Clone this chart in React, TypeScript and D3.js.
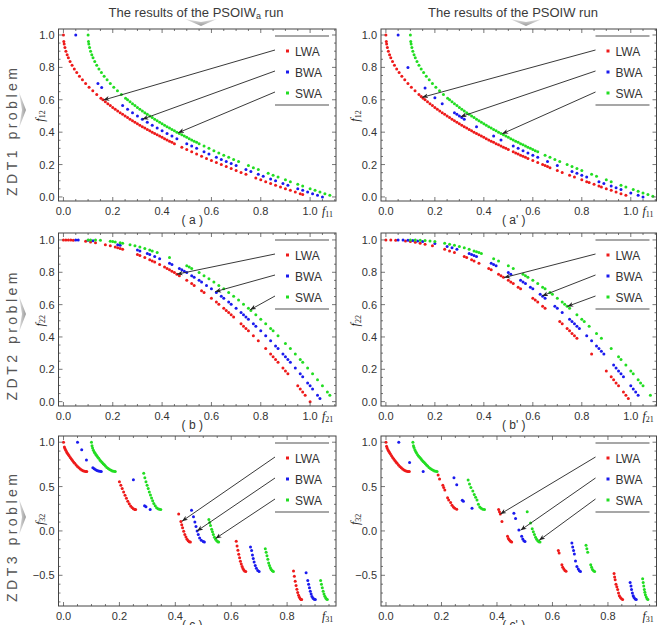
import * as React from 'react'
import * as d3 from 'd3'

type Pt = [number, number]

// ZDT1 fronts, PSOIWa run (a)
const zdt1LwaA: Pt[] = [[0,1],[0.0016,0.96],[0.003,0.945],[0.006,0.923],[0.01,0.9],[0.015,0.878],[0.02,0.859],[0.027,0.836],[0.035,0.813],[0.044,0.79],[0.054,0.768],[0.065,0.745],[0.077,0.723],[0.09,0.7],[0.104,0.678],[0.119,0.655],[0.135,0.633],[0.152,0.61],[0.16,0.6],[0.17,0.588],[0.18,0.576],[0.19,0.564],[0.2,0.553],[0.21,0.542],[0.22,0.531],[0.23,0.52],[0.24,0.51],[0.25,0.5],[0.26,0.49],[0.27,0.48],[0.28,0.471],[0.29,0.461],[0.3,0.452],[0.31,0.443],[0.32,0.434],[0.33,0.426],[0.34,0.417],[0.35,0.408],[0.36,0.4],[0.37,0.392],[0.38,0.384],[0.39,0.376],[0.4,0.368],[0.41,0.36],[0.42,0.352],[0.43,0.344],[0.44,0.337],[0.45,0.329],[0.48,0.307],[0.5,0.293],[0.52,0.279],[0.54,0.265],[0.56,0.252],[0.58,0.238],[0.6,0.225],[0.62,0.213],[0.64,0.2],[0.66,0.188],[0.68,0.175],[0.7,0.163],[0.72,0.151],[0.74,0.14],[0.78,0.117],[0.8,0.106],[0.82,0.094],[0.84,0.083],[0.86,0.073],[0.88,0.062],[0.9,0.051],[0.92,0.041],[0.94,0.03],[0.96,0.02],[0.97,0.015]]
const zdt1BwaA: Pt[] = [[0.05,1],[0.14,0.7],[0.155,0.676],[0.24,0.564],[0.26,0.542],[0.28,0.52],[0.3,0.5],[0.32,0.48],[0.34,0.461],[0.36,0.443],[0.38,0.426],[0.4,0.408],[0.42,0.392],[0.44,0.376],[0.46,0.36],[0.5,0.329],[0.52,0.314],[0.54,0.3],[0.57,0.279],[0.59,0.265],[0.62,0.245],[0.64,0.232],[0.66,0.219],[0.68,0.206],[0.7,0.194],[0.74,0.169],[0.76,0.157],[0.79,0.14],[0.81,0.128],[0.84,0.111],[0.86,0.1],[0.89,0.083],[0.91,0.073],[0.95,0.051],[0.97,0.041],[0.99,0.03],[1.01,0.02],[1.03,0.01],[1.05,0]]
const zdt1SwaA: Pt[] = [[0.1,1],[0.1016,0.96],[0.103,0.945],[0.106,0.923],[0.11,0.9],[0.115,0.878],[0.12,0.859],[0.127,0.836],[0.135,0.813],[0.144,0.79],[0.154,0.768],[0.165,0.745],[0.177,0.723],[0.19,0.7],[0.204,0.678],[0.219,0.655],[0.235,0.633],[0.252,0.61],[0.26,0.6],[0.27,0.588],[0.28,0.576],[0.29,0.564],[0.3,0.553],[0.31,0.542],[0.32,0.531],[0.33,0.52],[0.34,0.51],[0.35,0.5],[0.36,0.49],[0.37,0.48],[0.38,0.471],[0.39,0.461],[0.4,0.452],[0.41,0.443],[0.42,0.434],[0.43,0.426],[0.44,0.417],[0.45,0.408],[0.46,0.4],[0.47,0.392],[0.48,0.384],[0.49,0.376],[0.5,0.368],[0.51,0.36],[0.52,0.352],[0.53,0.344],[0.54,0.337],[0.55,0.329],[0.57,0.314],[0.59,0.3],[0.61,0.286],[0.63,0.272],[0.65,0.258],[0.67,0.245],[0.69,0.232],[0.71,0.219],[0.75,0.194],[0.77,0.181],[0.79,0.169],[0.83,0.146],[0.85,0.134],[0.87,0.123],[0.9,0.106],[0.92,0.094],[0.95,0.078],[0.97,0.067],[1.0,0.051],[1.02,0.041],[1.04,0.03],[1.06,0.02],[1.08,0.01]]

// ZDT1 fronts, PSOIW run (a')
const zdt1LwaB: Pt[] = [[0,1],[0.0016,0.96],[0.003,0.945],[0.006,0.923],[0.01,0.9],[0.015,0.878],[0.02,0.859],[0.027,0.836],[0.035,0.813],[0.044,0.79],[0.054,0.768],[0.065,0.745],[0.077,0.723],[0.09,0.7],[0.104,0.678],[0.119,0.655],[0.135,0.633],[0.144,0.62],[0.152,0.61],[0.16,0.6],[0.17,0.588],[0.18,0.576],[0.19,0.564],[0.2,0.553],[0.21,0.542],[0.22,0.531],[0.23,0.52],[0.24,0.51],[0.25,0.5],[0.26,0.49],[0.27,0.48],[0.28,0.471],[0.29,0.461],[0.3,0.452],[0.31,0.443],[0.32,0.434],[0.33,0.426],[0.34,0.417],[0.35,0.408],[0.36,0.4],[0.37,0.392],[0.38,0.384],[0.39,0.376],[0.4,0.368],[0.41,0.36],[0.42,0.352],[0.43,0.344],[0.44,0.337],[0.45,0.329],[0.46,0.322],[0.47,0.314],[0.48,0.307],[0.49,0.3],[0.5,0.293],[0.52,0.279],[0.53,0.272],[0.54,0.265],[0.55,0.258],[0.56,0.252],[0.57,0.245],[0.58,0.238],[0.6,0.225],[0.62,0.213],[0.64,0.2],[0.65,0.194],[0.66,0.188],[0.67,0.181],[0.7,0.163],[0.72,0.151],[0.75,0.134],[0.77,0.123],[0.8,0.106],[0.82,0.094],[0.83,0.089],[0.85,0.078],[0.87,0.067],[0.88,0.062],[0.9,0.051],[0.92,0.041],[0.94,0.03],[0.96,0.02],[0.98,0.01]]
const zdt1BwaB: Pt[] = [[0.05,1],[0.09,0.8],[0.16,0.672],[0.2,0.613],[0.23,0.576],[0.28,0.52],[0.29,0.51],[0.3,0.5],[0.31,0.49],[0.32,0.48],[0.37,0.434],[0.44,0.376],[0.47,0.352],[0.52,0.314],[0.54,0.3],[0.56,0.286],[0.58,0.272],[0.6,0.258],[0.62,0.245],[0.66,0.219],[0.7,0.194],[0.76,0.157],[0.78,0.146],[0.8,0.134],[0.82,0.123],[0.87,0.094],[0.89,0.083],[0.92,0.067],[0.94,0.057],[0.96,0.046],[1.0,0.025],[1.03,0.01],[1.05,0]]
const zdt1SwaB: Pt[] = [[0.1,1],[0.1016,0.96],[0.103,0.945],[0.106,0.923],[0.11,0.9],[0.115,0.878],[0.12,0.859],[0.127,0.836],[0.135,0.813],[0.144,0.79],[0.154,0.768],[0.165,0.745],[0.177,0.723],[0.19,0.7],[0.204,0.678],[0.219,0.655],[0.235,0.633],[0.252,0.61],[0.26,0.6],[0.27,0.588],[0.28,0.576],[0.29,0.564],[0.3,0.553],[0.31,0.542],[0.32,0.531],[0.33,0.52],[0.34,0.51],[0.35,0.5],[0.36,0.49],[0.37,0.48],[0.38,0.471],[0.39,0.461],[0.4,0.452],[0.41,0.443],[0.42,0.434],[0.43,0.426],[0.44,0.417],[0.45,0.408],[0.46,0.4],[0.47,0.392],[0.48,0.384],[0.49,0.376],[0.5,0.368],[0.51,0.36],[0.52,0.352],[0.53,0.344],[0.54,0.337],[0.55,0.329],[0.56,0.322],[0.57,0.314],[0.58,0.307],[0.59,0.3],[0.6,0.293],[0.61,0.286],[0.62,0.279],[0.65,0.258],[0.67,0.245],[0.69,0.232],[0.71,0.219],[0.74,0.2],[0.76,0.188],[0.78,0.175],[0.8,0.163],[0.84,0.14],[0.86,0.128],[0.9,0.106],[0.92,0.094],[0.96,0.073],[0.98,0.062],[1.01,0.046],[1.03,0.035],[1.05,0.025],[1.07,0.015],[1.09,0.005]]

// ZDT2 fronts, PSOIWa run (b)
const zdt2LwaA: Pt[] = [[0,1],[0.01,1],[0.02,1],[0.03,0.999],[0.04,0.998],[0.09,0.992],[0.11,0.988],[0.13,0.983],[0.17,0.971],[0.19,0.964],[0.21,0.956],[0.22,0.952],[0.23,0.947],[0.24,0.942],[0.3,0.91],[0.31,0.904],[0.33,0.891],[0.35,0.878],[0.36,0.87],[0.37,0.863],[0.39,0.848],[0.41,0.832],[0.42,0.824],[0.43,0.815],[0.44,0.806],[0.45,0.798],[0.46,0.788],[0.47,0.779],[0.5,0.75],[0.52,0.73],[0.53,0.719],[0.56,0.686],[0.57,0.675],[0.6,0.64],[0.62,0.616],[0.63,0.603],[0.65,0.578],[0.66,0.564],[0.67,0.551],[0.68,0.538],[0.69,0.524],[0.72,0.482],[0.73,0.467],[0.74,0.452],[0.75,0.438],[0.77,0.407],[0.79,0.376],[0.82,0.328],[0.84,0.294],[0.85,0.278],[0.86,0.26],[0.87,0.243],[0.89,0.208],[0.9,0.19],[0.91,0.172],[0.95,0.098],[0.96,0.078],[0.97,0.059],[0.98,0.04],[1.0,0]]
const zdt2BwaA: Pt[] = [[0.05,1],[0.06,1],[0.1,0.998],[0.12,0.995],[0.22,0.971],[0.23,0.968],[0.3,0.938],[0.31,0.932],[0.34,0.916],[0.35,0.91],[0.37,0.898],[0.39,0.884],[0.43,0.856],[0.44,0.848],[0.47,0.824],[0.48,0.815],[0.49,0.806],[0.5,0.798],[0.52,0.779],[0.53,0.77],[0.55,0.75],[0.56,0.74],[0.58,0.719],[0.6,0.698],[0.62,0.675],[0.64,0.652],[0.65,0.64],[0.67,0.616],[0.68,0.603],[0.7,0.578],[0.72,0.551],[0.73,0.538],[0.74,0.524],[0.75,0.51],[0.77,0.482],[0.78,0.467],[0.8,0.438],[0.82,0.407],[0.84,0.376],[0.86,0.344],[0.87,0.328],[0.89,0.294],[0.9,0.278],[0.91,0.26],[0.92,0.243],[0.94,0.208],[0.96,0.172],[0.97,0.154],[0.99,0.116],[1.0,0.098],[1.01,0.078],[1.03,0.04],[1.04,0.02]]
const zdt2SwaA: Pt[] = [[0.1,1],[0.11,1],[0.13,0.999],[0.15,0.998],[0.19,0.992],[0.2,0.99],[0.21,0.988],[0.23,0.983],[0.24,0.98],[0.27,0.971],[0.29,0.964],[0.31,0.956],[0.33,0.947],[0.35,0.938],[0.36,0.932],[0.38,0.922],[0.43,0.891],[0.5,0.84],[0.51,0.832],[0.52,0.824],[0.55,0.798],[0.57,0.779],[0.59,0.76],[0.61,0.74],[0.63,0.719],[0.65,0.698],[0.67,0.675],[0.69,0.652],[0.71,0.628],[0.73,0.603],[0.75,0.578],[0.76,0.564],[0.78,0.538],[0.8,0.51],[0.82,0.482],[0.84,0.452],[0.85,0.438],[0.87,0.407],[0.9,0.36],[0.92,0.328],[0.94,0.294],[0.96,0.26],[0.97,0.243],[0.99,0.208],[1.01,0.172],[1.03,0.135],[1.05,0.098],[1.07,0.059],[1.08,0.04]]

// ZDT2 fronts, PSOIW run (b')
const zdt2LwaB: Pt[] = [[0,1],[0.02,1],[0.04,0.998],[0.08,0.994],[0.1,0.99],[0.12,0.986],[0.14,0.98],[0.16,0.974],[0.19,0.964],[0.24,0.942],[0.26,0.932],[0.28,0.922],[0.32,0.898],[0.33,0.891],[0.35,0.878],[0.36,0.87],[0.38,0.856],[0.42,0.824],[0.43,0.815],[0.46,0.788],[0.47,0.779],[0.48,0.77],[0.5,0.75],[0.51,0.74],[0.52,0.73],[0.54,0.708],[0.55,0.698],[0.6,0.64],[0.61,0.628],[0.62,0.616],[0.64,0.59],[0.65,0.578],[0.71,0.496],[0.72,0.482],[0.74,0.452],[0.75,0.438],[0.76,0.422],[0.77,0.407],[0.78,0.392],[0.84,0.294],[0.9,0.19],[0.92,0.154],[0.93,0.135],[0.94,0.116],[0.95,0.098],[0.97,0.059],[0.98,0.04],[0.99,0.02]]
const zdt2BwaB: Pt[] = [[0.05,1],[0.07,1],[0.09,0.998],[0.11,0.996],[0.13,0.994],[0.15,0.99],[0.2,0.978],[0.25,0.96],[0.27,0.952],[0.29,0.942],[0.34,0.916],[0.35,0.91],[0.36,0.904],[0.37,0.898],[0.43,0.856],[0.44,0.848],[0.45,0.84],[0.5,0.798],[0.51,0.788],[0.55,0.75],[0.56,0.74],[0.57,0.73],[0.59,0.708],[0.6,0.698],[0.63,0.664],[0.64,0.652],[0.65,0.64],[0.69,0.59],[0.7,0.578],[0.72,0.551],[0.75,0.51],[0.76,0.496],[0.77,0.482],[0.78,0.467],[0.79,0.452],[0.82,0.407],[0.84,0.376],[0.86,0.344],[0.87,0.328],[0.88,0.311],[0.89,0.294],[0.93,0.226],[0.94,0.208],[0.95,0.19],[0.96,0.172],[0.97,0.154],[1.0,0.098],[1.01,0.078],[1.02,0.059],[1.03,0.04]]
const zdt2SwaB: Pt[] = [[0.1,1],[0.12,1],[0.14,0.998],[0.16,0.996],[0.18,0.994],[0.2,0.99],[0.24,0.98],[0.26,0.974],[0.28,0.968],[0.3,0.96],[0.32,0.952],[0.34,0.942],[0.36,0.932],[0.37,0.927],[0.38,0.922],[0.39,0.916],[0.44,0.884],[0.46,0.87],[0.5,0.84],[0.52,0.824],[0.56,0.788],[0.57,0.779],[0.58,0.77],[0.6,0.75],[0.62,0.73],[0.64,0.708],[0.65,0.698],[0.67,0.675],[0.68,0.664],[0.7,0.64],[0.72,0.616],[0.73,0.603],[0.74,0.59],[0.75,0.578],[0.78,0.538],[0.8,0.51],[0.81,0.496],[0.83,0.467],[0.86,0.422],[0.88,0.392],[0.92,0.328],[0.95,0.278],[0.96,0.26],[0.98,0.226],[1.0,0.19],[1.01,0.172],[1.03,0.135],[1.04,0.116],[1.05,0.098],[1.08,0.04]]

// ZDT3 fronts, PSOIWa run (c)
const zdt3LwaA: Pt[] = [[0,1],[0.003,0.945],[0.005,0.928],[0.008,0.908],[0.011,0.891],[0.014,0.876],[0.017,0.861],[0.02,0.847],[0.024,0.829],[0.028,0.811],[0.032,0.794],[0.036,0.778],[0.04,0.762],[0.045,0.744],[0.05,0.726],[0.055,0.711],[0.06,0.698],[0.065,0.687],[0.07,0.679],[0.075,0.673],[0.08,0.67],[0.083,0.67],
  [0.2,0.553],[0.205,0.515],[0.21,0.477],[0.215,0.439],[0.22,0.402],[0.225,0.367],[0.23,0.334],[0.235,0.306],[0.24,0.282],[0.245,0.263],[0.25,0.25],[0.255,0.243],[0.258,0.242],
  [0.412,0.19],[0.42,0.105],[0.423,0.07],[0.426,0.037],[0.43,-0.004],[0.434,-0.039],[0.438,-0.069],[0.442,-0.093],[0.446,-0.11],[0.45,-0.121],[0.454,-0.124],
  [0.618,-0.117],[0.621,-0.169],[0.624,-0.217],[0.627,-0.262],[0.63,-0.303],[0.633,-0.341],[0.636,-0.373],[0.639,-0.401],[0.642,-0.423],[0.645,-0.44],[0.648,-0.452],[0.652,-0.458],
  [0.823,-0.451],[0.826,-0.511],[0.829,-0.566],[0.832,-0.615],[0.835,-0.658],[0.838,-0.695],[0.841,-0.724],[0.844,-0.748],[0.847,-0.764],[0.85,-0.772],[0.852,-0.773]]
const zdt3BwaA: Pt[] = [[0.05,1],[0.065,0.915],[0.082,0.8],[0.105,0.712],[0.11,0.7],[0.115,0.69],[0.12,0.68],[0.125,0.675],[0.13,0.672],[0.135,0.67],
  [0.25,0.577],[0.29,0.285],[0.295,0.272],[0.31,0.242],
  [0.458,0.233],[0.465,0.16],[0.47,0.1],[0.474,0.05],[0.478,0],[0.482,-0.04],[0.487,-0.08],[0.493,-0.105],[0.5,-0.12],[0.504,-0.124],
  [0.669,-0.18],[0.673,-0.22],[0.676,-0.27],[0.679,-0.31],[0.682,-0.35],[0.686,-0.39],[0.69,-0.42],[0.695,-0.445],[0.7,-0.456],
  [0.868,-0.47],[0.874,-0.56],[0.877,-0.6],[0.88,-0.64],[0.883,-0.68],[0.886,-0.71],[0.889,-0.74],[0.893,-0.76],[0.897,-0.77],[0.901,-0.773]]
const zdt3SwaA: Pt[] = [[0.1,1],[0.102,0.96],[0.104,0.935],[0.107,0.91],[0.11,0.891],[0.113,0.875],[0.116,0.86],[0.119,0.846],[0.122,0.834],[0.126,0.818],[0.13,0.8],[0.134,0.785],[0.138,0.771],[0.142,0.758],[0.146,0.745],[0.15,0.732],[0.155,0.716],[0.16,0.703],[0.165,0.692],[0.17,0.683],[0.175,0.676],[0.18,0.672],[0.185,0.67],
  [0.287,0.65],[0.291,0.6],[0.295,0.555],[0.299,0.515],[0.303,0.478],[0.307,0.44],[0.311,0.405],[0.315,0.37],[0.319,0.34],[0.323,0.31],[0.328,0.283],[0.333,0.262],[0.338,0.25],[0.343,0.244],[0.348,0.242],
  [0.52,0.13],[0.523,0.095],[0.526,0.06],[0.53,0.02],[0.533,-0.01],[0.536,-0.04],[0.54,-0.07],[0.544,-0.095],[0.548,-0.112],[0.552,-0.122],[0.555,-0.125],
  [0.722,-0.2],[0.725,-0.24],[0.728,-0.28],[0.731,-0.32],[0.734,-0.36],[0.737,-0.39],[0.74,-0.415],[0.743,-0.435],[0.747,-0.45],[0.751,-0.457],
  [0.92,-0.56],[0.923,-0.6],[0.926,-0.64],[0.929,-0.68],[0.932,-0.71],[0.935,-0.735],[0.938,-0.755],[0.941,-0.767],[0.944,-0.773]]

// ZDT3 fronts, PSOIW run (c')
const zdt3LwaB: Pt[] = [[0,1],[0.002,0.955],[0.004,0.936],[0.007,0.915],[0.01,0.897],[0.013,0.881],[0.016,0.866],[0.02,0.847],[0.024,0.829],[0.028,0.811],[0.032,0.794],[0.036,0.778],[0.04,0.762],[0.045,0.744],[0.05,0.726],[0.055,0.711],[0.06,0.698],[0.065,0.687],[0.07,0.679],[0.075,0.673],[0.08,0.67],[0.084,0.669],
  [0.188,0.63],[0.193,0.585],[0.205,0.515],[0.208,0.49],[0.212,0.462],[0.222,0.375],[0.226,0.35],[0.233,0.32],[0.238,0.29],[0.243,0.27],[0.248,0.256],[0.255,0.244],
  [0.406,0.243],[0.409,0.215],[0.412,0.19],[0.418,0.105],[0.438,-0.06],[0.441,-0.085],[0.444,-0.1],[0.447,-0.112],[0.45,-0.12],[0.453,-0.125],
  [0.621,-0.22],[0.624,-0.25],[0.634,-0.38],[0.637,-0.41],[0.641,-0.43],[0.645,-0.445],[0.649,-0.455],
  [0.822,-0.48],[0.824,-0.52],[0.826,-0.55],[0.829,-0.6],[0.832,-0.63],[0.835,-0.66],[0.838,-0.7],[0.841,-0.73],[0.845,-0.75],[0.849,-0.765],[0.853,-0.773]]
const zdt3BwaB: Pt[] = [[0.046,1],[0.085,0.77],[0.134,0.67],
  [0.245,0.6],[0.255,0.52],[0.275,0.345],[0.279,0.335],[0.31,0.255],
  [0.461,0.2],[0.467,0.14],[0.479,0.01],[0.489,-0.06],[0.493,-0.09],[0.497,-0.11],[0.501,-0.12],
  [0.67,-0.136],[0.673,-0.18],[0.676,-0.22],[0.679,-0.26],[0.683,-0.34],[0.688,-0.4],[0.693,-0.43],[0.697,-0.45],[0.701,-0.458],
  [0.88,-0.58],[0.883,-0.62],[0.885,-0.66],[0.888,-0.7],[0.891,-0.73],[0.894,-0.75],[0.898,-0.768],[0.902,-0.773]]
const zdt3SwaB: Pt[] = [[0.097,1],[0.099,0.96],[0.101,0.94],[0.104,0.915],[0.107,0.895],[0.11,0.878],[0.114,0.86],[0.118,0.843],[0.122,0.828],[0.126,0.813],[0.13,0.798],[0.134,0.784],[0.138,0.77],[0.142,0.757],[0.146,0.744],[0.15,0.731],[0.155,0.716],[0.16,0.703],[0.165,0.692],[0.17,0.683],[0.175,0.676],[0.18,0.672],[0.184,0.67],
  [0.296,0.575],[0.301,0.53],[0.306,0.49],[0.313,0.45],[0.318,0.41],[0.323,0.38],[0.328,0.35],[0.333,0.3],[0.338,0.27],[0.343,0.255],[0.349,0.245],[0.355,0.242],
  [0.509,0.216],[0.521,0.09],[0.527,0.025],[0.531,-0.01],[0.535,-0.04],[0.539,-0.07],[0.543,-0.095],[0.547,-0.112],[0.551,-0.122],[0.555,-0.125],
  [0.721,-0.16],[0.724,-0.2],[0.727,-0.24],[0.738,-0.38],[0.741,-0.41],[0.744,-0.435],[0.748,-0.45],[0.752,-0.458],
  [0.925,-0.54],[0.927,-0.58],[0.929,-0.62],[0.931,-0.66],[0.933,-0.69],[0.935,-0.72],[0.938,-0.745],[0.941,-0.763],[0.944,-0.773]]

// points the legend arrows land on, one per series
const tipsA: Pt[] = [[0.162, 0.598], [0.32, 0.48], [0.465, 0.396]]
const tipsA2: Pt[] = [[0.148, 0.615], [0.305, 0.495], [0.475, 0.39]]
const tipsB: Pt[] = [[0.46, 0.788], [0.615, 0.68], [0.757, 0.568]]
const tipsB2: Pt[] = [[0.483, 0.767], [0.638, 0.654], [0.741, 0.589]]
const tipsC: Pt[] = [[0.424, 0.11], [0.478, 0], [0.544, -0.085]]
const tipsC2: Pt[] = [[0.412, 0.19], [0.485, 0.008], [0.552, -0.106]]

const seriesNames = ['LWA', 'BWA', 'SWA']
const seriesColors = ['#ee1a1a', '#1a1aee', '#22dd22']

const unitTicks = [0, 0.2, 0.4, 0.6, 0.8, 1.0]
const zdt3XTicks = [0, 0.2, 0.4, 0.6, 0.8]
const zdt3YTicks = [-0.5, 0, 0.5, 1.0]

const headers = ['The results of the PSOIW', 'The results of the PSOIW']
const problems = ['ZDT1 problem', 'ZDT2 problem', 'ZDT3 problem']

interface Row {
    top: number
    bottom: number
    xDomain: [number, number]
    yDomain: [number, number]
    xTicks: number[]
    yTicks: number[]
    xMinor: number
    yMinor: number
    fIndex: string
    yLabelAt: number
}

const rows: Row[] = [
    { top: 29, bottom: 201, xDomain: [-0.02, 1.105], yDomain: [-0.025, 1.037], xTicks: unitTicks, yTicks: unitTicks, xMinor: 0.05, yMinor: 0.05, fIndex: '1', yLabelAt: 0.5 },
    { top: 233, bottom: 406, xDomain: [-0.02, 1.105], yDomain: [-0.027, 1.043], xTicks: unitTicks, yTicks: unitTicks, xMinor: 0.05, yMinor: 0.05, fIndex: '2', yLabelAt: 0.5 },
    { top: 436, bottom: 606, xDomain: [-0.018, 0.975], yDomain: [-0.846, 1.07], xTicks: zdt3XTicks, yTicks: zdt3YTicks, xMinor: 0.05, yMinor: 0.1, fIndex: '3', yLabelAt: 0.13 },
]

const columns = [
    { left: 58.5, right: 336, yLabelGap: 15 },
    { left: 381, right: 656.5, yLabelGap: 22 },
]

interface Panel {
    tag: string
    col: number
    row: number
    series: Pt[][]
    tips: Pt[]
}

const panels: Panel[] = [
    { tag: '( a )', col: 0, row: 0, series: [zdt1LwaA, zdt1BwaA, zdt1SwaA], tips: tipsA },
    { tag: "( a' )", col: 1, row: 0, series: [zdt1LwaB, zdt1BwaB, zdt1SwaB], tips: tipsA2 },
    { tag: '( b )', col: 0, row: 1, series: [zdt2LwaA, zdt2BwaA, zdt2SwaA], tips: tipsB },
    { tag: "( b' )", col: 1, row: 1, series: [zdt2LwaB, zdt2BwaB, zdt2SwaB], tips: tipsB2 },
    { tag: '( c )', col: 0, row: 2, series: [zdt3LwaA, zdt3BwaA, zdt3SwaA], tips: tipsC },
    { tag: "( c' )", col: 1, row: 2, series: [zdt3LwaB, zdt3BwaB, zdt3SwaB], tips: tipsC2 },
]

const SANS = "'Liberation Sans', Arial, sans-serif"
const SERIF = "'Liberation Serif', 'Times New Roman', serif"
const fmt = d3.format('.1f')

const stepTicks = (domain: [number, number], step: number) =>
    d3.range(Math.ceil(domain[0] / step - 1e-9), Math.floor(domain[1] / step + 1e-9) + 1).map(k => +(k * step).toFixed(4))

function drawChart(node: SVGSVGElement) {
    const svg = d3.select(node)
    svg.selectAll('*').remove()
    svg.attr('font-family', SANS)

    svg.append('rect').attr('width', 666).attr('height', 625).attr('fill', '#fff')

    const defs = svg.append('defs')
    defs.append('marker')
        .attr('id', 'tip')
        .attr('viewBox', '0 0 10 10')
        .attr('refX', 10)
        .attr('refY', 5)
        .attr('markerWidth', 6)
        .attr('markerHeight', 6)
        .attr('markerUnits', 'userSpaceOnUse')
        .attr('orient', 'auto')
        .append('path')
        .attr('d', 'M0,1L10,5L0,9L3,5z')
        .attr('fill', '#222')

    const hGrad = defs.append('linearGradient').attr('id', 'chevH').attr('x1', 0).attr('y1', 0).attr('x2', 0).attr('y2', 1)
    hGrad.append('stop').attr('offset', 0).attr('stop-color', '#e4e4e4')
    hGrad.append('stop').attr('offset', 1).attr('stop-color', '#9a9a9a')
    const vGrad = defs.append('linearGradient').attr('id', 'chevV').attr('x1', 0).attr('y1', 0).attr('x2', 1).attr('y2', 0)
    vGrad.append('stop').attr('offset', 0).attr('stop-color', '#e4e4e4')
    vGrad.append('stop').attr('offset', 1).attr('stop-color', '#9a9a9a')

    // column headers with their down chevrons
    const headerX = [196, 513]
    const chevX = [201, 526]
    headers.forEach((h, i) => {
        const t = svg.append('text')
            .attr('x', headerX[i])
            .attr('y', 17)
            .attr('text-anchor', 'middle')
            .attr('font-size', 13)
            .attr('fill', '#3a3a3a')
        t.append('tspan').text(h)
        if (i === 0) {
            t.append('tspan').attr('font-size', 9).attr('dy', 2).text('a')
            t.append('tspan').attr('dy', -2).text(' run')
        } else {
            t.append('tspan').text(' run')
        }
        const cx = chevX[i]
        svg.append('path')
            .attr('d', `M${cx - 16},19L${cx},26L${cx + 16},19L${cx},22Z`)
            .attr('fill', 'url(#chevH)')
    })

    // row titles with their right chevrons
    rows.forEach((row, i) => {
        const cy = (row.top + row.bottom) / 2 + 17
        svg.append('text')
            .attr('transform', `translate(17,${cy}) rotate(-90)`)
            .attr('text-anchor', 'middle')
            .attr('font-size', 14)
            .attr('fill', '#555')
            .attr('textLength', 128)
            .attr('lengthAdjust', 'spacing')
            .text(problems[i])
        const t0 = row.top + 63
        const t1 = row.top + 99
        svg.append('path')
            .attr('d', `M19,${t0}L26,${(t0 + t1) / 2}L19,${t1}L22,${(t0 + t1) / 2}Z`)
            .attr('fill', 'url(#chevV)')
    })

    for (const p of panels) {
        const col = columns[p.col]
        const row = rows[p.row]
        const x = d3.scaleLinear().domain(row.xDomain).range([col.left, col.right])
        const y = d3.scaleLinear().domain(row.yDomain).range([row.bottom, row.top])
        const g = svg.append('g')

        // scatter points
        p.series.forEach((pts, i) => {
            g.append('g')
                .attr('fill', seriesColors[i])
                .selectAll('circle')
                .data(pts)
                .join('circle')
                .attr('cx', d => x(d[0]))
                .attr('cy', d => y(d[1]))
                .attr('r', 1.5)
        })

        // frame ticks, pointing inward on all four sides
        const tickG = g.append('g').attr('stroke', '#555').attr('stroke-width', 0.8)
        const xMinor = stepTicks(row.xDomain, row.xMinor)
        const yMinor = stepTicks(row.yDomain, row.yMinor)
        for (const v of xMinor) {
            const len = row.xTicks.some(t => Math.abs(t - v) < 1e-6) ? 4 : 2
            tickG.append('line').attr('x1', x(v)).attr('x2', x(v)).attr('y1', row.bottom).attr('y2', row.bottom - len)
            tickG.append('line').attr('x1', x(v)).attr('x2', x(v)).attr('y1', row.top).attr('y2', row.top + len)
        }
        for (const v of yMinor) {
            const len = row.yTicks.some(t => Math.abs(t - v) < 1e-6) ? 4 : 2
            tickG.append('line').attr('y1', y(v)).attr('y2', y(v)).attr('x1', col.left).attr('x2', col.left + len)
            tickG.append('line').attr('y1', y(v)).attr('y2', y(v)).attr('x1', col.right).attr('x2', col.right - len)
        }

        g.append('rect')
            .attr('x', col.left)
            .attr('y', row.top)
            .attr('width', col.right - col.left)
            .attr('height', row.bottom - row.top)
            .attr('fill', 'none')
            .attr('stroke', '#444')
            .attr('stroke-width', 1)

        // tick labels
        g.append('g')
            .selectAll('text')
            .data(row.xTicks)
            .join('text')
            .attr('x', d => x(d))
            .attr('y', row.bottom + 14)
            .attr('text-anchor', 'middle')
            .attr('font-size', 11)
            .attr('fill', '#333')
            .text(d => fmt(d))
        g.append('g')
            .selectAll('text')
            .data(row.yTicks)
            .join('text')
            .attr('x', col.left - 4)
            .attr('y', d => y(d) + 4)
            .attr('text-anchor', 'end')
            .attr('font-size', 11)
            .attr('fill', '#333')
            .text(d => fmt(d))

        // axis names f_k1 / f_k2
        const xl = g.append('text')
            .attr('x', col.right - 14)
            .attr('y', row.bottom + 14)
            .attr('font-family', SERIF)
            .attr('font-style', 'italic')
            .attr('font-size', 12)
            .attr('fill', '#222')
        xl.append('tspan').text('f')
        xl.append('tspan').attr('font-style', 'normal').attr('font-size', 8).attr('dy', 1.5).text(row.fIndex + '1')

        const yl = g.append('text')
            .attr('transform', `translate(${col.left - col.yLabelGap},${y(row.yLabelAt)}) rotate(-90)`)
            .attr('text-anchor', 'middle')
            .attr('font-family', SERIF)
            .attr('font-style', 'italic')
            .attr('font-size', 12)
            .attr('fill', '#222')
        yl.append('tspan').text('f')
        yl.append('tspan').attr('font-style', 'normal').attr('font-size', 8).attr('dy', 1.5).text(row.fIndex + '2')

        // panel tag under the x axis (the bottom row's tag runs past the page edge)
        g.append('text')
            .attr('x', (col.left + col.right) / 2 - 5)
            .attr('y', row.bottom + 23)
            .attr('text-anchor', 'middle')
            .attr('font-size', 12)
            .attr('fill', '#333')
            .attr('xml:space', 'preserve')
            .text(p.tag)

        // legend block with arrows into the fronts
        const lx = col.right - 61
        const lg = g.append('g')
        lg.append('line').attr('x1', lx).attr('x2', col.right - 7).attr('y1', row.top + 7).attr('y2', row.top + 7)
            .attr('stroke', '#8a8a8a').attr('stroke-width', 1.5)
        lg.append('line').attr('x1', lx).attr('x2', col.right - 7).attr('y1', row.top + 76).attr('y2', row.top + 76)
            .attr('stroke', '#8a8a8a').attr('stroke-width', 1.5)
        seriesNames.forEach((name, i) => {
            const iy = row.top + 22 + 21 * i
            lg.append('rect').attr('x', lx + 11).attr('y', iy - 1.5).attr('width', 3).attr('height', 3).attr('fill', seriesColors[i])
            lg.append('text').attr('x', lx + 20).attr('y', iy + 4.5).attr('font-size', 12).attr('fill', '#333').text(name)
            const tip = p.tips[i]
            lg.append('line')
                .attr('x1', lx)
                .attr('y1', iy - 1)
                .attr('x2', x(tip[0]))
                .attr('y2', y(tip[1]))
                .attr('stroke', '#222')
                .attr('stroke-width', 0.9)
                .attr('marker-end', 'url(#tip)')
        })
    }
}

export default function App() {
    const ref = React.useRef<SVGSVGElement>(null)

    React.useEffect(() => {
        if (ref.current)
            drawChart(ref.current)
    }, [])

    return (
        <svg
            ref={ref}
            width={666}
            height={625}
            style={{ position: 'absolute', left: 0, top: 0 }} />
    )
}
